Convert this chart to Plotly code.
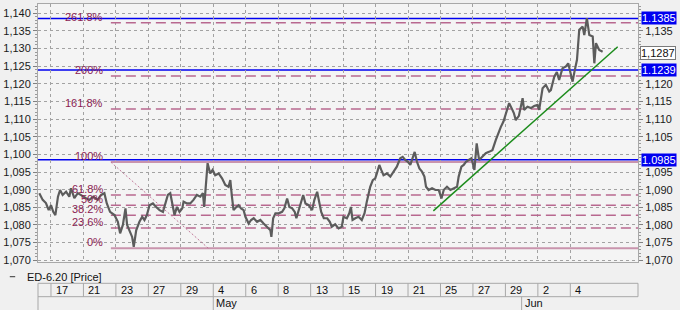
import plotly.graph_objects as go

# ---------------- data ----------------
# trading-day index (0 = Apr 17) and price of the intraday path
day = [-0.72, -0.51, -0.31, -0.14, 0.00, 0.14, 0.27, 0.43, 0.56, 0.72, 0.93, 1.13, 1.23, 1.44, 1.65,
       1.96, 2.16, 2.36, 2.61, 2.88, 3.09, 3.29, 3.44, 3.64, 3.91, 4.12, 4.26, 4.43, 4.59, 4.69,
       4.83, 5.00, 5.10, 5.25, 5.45, 5.62, 5.76, 5.91, 6.07, 6.28, 6.48, 6.69, 6.90, 7.06, 7.20,
       7.35, 7.51, 7.61, 7.76, 7.92, 8.09, 8.17, 8.38, 8.58, 8.78, 8.99, 9.20, 9.36, 9.44, 9.57,
       9.65, 9.81, 9.96, 10.12, 10.33, 10.54, 10.74, 10.94, 11.05, 11.15, 11.25, 11.42, 11.56, 11.71,
       11.87, 11.98, 12.18, 12.33, 12.49, 12.70, 12.90, 13.10, 13.31, 13.52, 13.58, 13.69, 13.83,
       14.03, 14.24, 14.38, 14.55, 14.69, 14.86, 15.02, 15.12, 15.27, 15.43, 15.54, 15.68, 15.88,
       16.09, 16.23, 16.40, 16.50, 16.65, 16.81, 17.02, 17.18, 17.30, 17.51, 17.72, 17.92, 18.02,
       18.23, 18.38, 18.48, 18.58, 18.75, 18.95, 19.15, 19.32, 19.46, 19.57, 19.67, 19.83, 19.98,
       20.08, 20.23, 20.35, 20.49, 20.70, 20.91, 21.11, 21.31, 21.52, 21.67, 21.83, 21.99, 22.14,
       22.28, 22.41, 22.55, 22.70, 22.86, 23.01, 23.11, 23.27, 23.48, 23.69, 23.89, 24.06, 24.20,
       24.40, 24.61, 24.81, 25.02, 25.12, 25.29, 25.43, 25.57, 25.74, 25.91, 26.09, 26.23, 26.38,
       26.59, 26.79, 26.99, 27.20, 27.41, 27.55, 27.72, 27.88, 28.09, 28.23, 28.38, 28.52, 28.64,
       28.83, 29.06, 29.15, 29.36, 29.57, 29.77, 29.98, 30.08, 30.19, 30.29, 30.49, 30.70, 30.80,
       31.01, 31.17, 31.31, 31.52, 31.73, 31.87, 32.04, 32.14, 32.25, 32.41, 32.55, 32.76, 32.86,
       33.02, 33.17, 33.38, 33.48, 33.58, 33.78, 33.99]
price = [1.0890, 1.0871, 1.0862, 1.0842, 1.0856, 1.0837, 1.0828, 1.0880, 1.0899, 1.0885, 1.0894,
         1.0880, 1.0904, 1.0876, 1.0890, 1.0880, 1.0876, 1.0871, 1.0880, 1.0871, 1.0885, 1.0890,
         1.0861, 1.0837, 1.0828, 1.0809, 1.0776, 1.0800, 1.0847, 1.0800, 1.0785, 1.0766, 1.0738,
         1.0785, 1.0809, 1.0823, 1.0814, 1.0828, 1.0856, 1.0861, 1.0851, 1.0842, 1.0837, 1.0861,
         1.0885, 1.0890, 1.0851, 1.0828, 1.0851, 1.0837, 1.0847, 1.0866, 1.0861, 1.0861, 1.0871,
         1.0885, 1.0880, 1.0890, 1.0851, 1.0946, 1.0975, 1.0946, 1.0956, 1.0941, 1.0946, 1.0932,
         1.0913, 1.0908, 1.0927, 1.0880, 1.0842, 1.0851, 1.0856, 1.0847, 1.0842, 1.0823, 1.0804,
         1.0814, 1.0819, 1.0809, 1.0814, 1.0804, 1.0795, 1.0785, 1.0766, 1.0819, 1.0833, 1.0833,
         1.0837, 1.0847, 1.0875, 1.0851, 1.0847, 1.0837, 1.0819, 1.0842, 1.0871, 1.0885, 1.0861,
         1.0856, 1.0842, 1.0871, 1.0894, 1.0866, 1.0837, 1.0819, 1.0819, 1.0809, 1.0795, 1.0802,
         1.0790, 1.0795, 1.0823, 1.0819, 1.0833, 1.0851, 1.0814, 1.0819, 1.0823, 1.0814, 1.0833,
         1.0866, 1.0890, 1.0908, 1.0927, 1.0932, 1.0946, 1.0970, 1.0956, 1.0941, 1.0946, 1.0937,
         1.0951, 1.0965, 1.0989, 1.0993, 1.0984, 1.0979, 1.0970, 1.0993, 1.1007, 1.0979, 1.0960,
         1.0951, 1.0937, 1.0908, 1.0899, 1.0904, 1.0899, 1.0899, 1.0875, 1.0899, 1.0908, 1.0899,
         1.0904, 1.0908, 1.0937, 1.0965, 1.0970, 1.0979, 1.0984, 1.0989, 1.0956, 1.1031, 1.0984,
         1.0993, 1.1003, 1.1007, 1.1012, 1.1041, 1.1060, 1.1078, 1.1093, 1.1121, 1.1145, 1.1131,
         1.1117, 1.1097, 1.1109, 1.1159, 1.1126, 1.1135, 1.1131, 1.1137, 1.1140, 1.1126, 1.1163,
         1.1187, 1.1197, 1.1178, 1.1182, 1.1220, 1.1233, 1.1211, 1.1244, 1.1249, 1.1258, 1.1220,
         1.1206, 1.1233, 1.1268, 1.1353, 1.1362, 1.1338, 1.1386, 1.1338, 1.1334, 1.1258, 1.1315,
         1.1296, 1.1291]
last_price = 1.1287
series_name = "ED-6.20 [Price]"

# price-axis ticks
y_ticks = [1.070, 1.075, 1.080, 1.085, 1.090, 1.095, 1.100, 1.105,
           1.110, 1.115, 1.120, 1.125, 1.130, 1.135, 1.140]
y_ticks_hidden_right = [1.100, 1.125, 1.130, 1.140]   # covered by the value boxes

# date band
date_pos = [0, 2, 4, 6, 8, 10, 12, 14, 16, 18, 20, 22, 24, 26, 28, 30, 32]
date_labels = ["17", "21", "23", "27", "29", "4", "6", "8", "13", "15", "19", "21", "25", "27", "29", "2", "4"]
month_pos = [10, 29]
month_labels = ["May", "Jun"]

# horizontal (blue) levels
blue_levels = [1.1385, 1.1239, 1.0985]

# Fibonacci tool
fib_low = 1.0734
fib_high = 1.0978
fib_x0 = 3.69      # anchor at 100% level
fib_x1 = 9.69      # anchor at 0% level
fib_ratios = [0.0, 0.236, 0.382, 0.5, 0.618, 1.0, 1.618, 2.0, 2.618]
fib_labels = ["0%", "23.6%", "38.2%", "50%", "61.8%", "100%", "161.8%", "200%", "261.8%"]

# trend line
trend_x = [23.56, 34.92]
trend_y = [1.0840, 1.1305]

# ---------------- layout constants ----------------
X_MIN, X_MAX = -0.80, 36.17
Y_MIN, Y_MAX = 1.0695, 1.1426
FONT = "Liberation Sans, Arial, sans-serif"
GRID = "#a2a2a2"
FRAME = "#a8a8a8"
FIB_COLOR = "#b8688f"
FIB_SOLID = "#c994ad"
FIB_TEXT = "#8b2252"
BLUE = "#0000f0"

fig = go.Figure()

fig.add_trace(go.Scatter(x=day, y=price, mode="lines",
                         line=dict(color="#5c5c5c", width=2.2),
                         hoverinfo="skip", showlegend=False))

# Fibonacci diagonal
fig.add_trace(go.Scatter(x=[fib_x0, fib_x1], y=[fib_high, fib_low], mode="lines",
                         line=dict(color="#c07898", width=1, dash="2px,2px"),
                         hoverinfo="skip", showlegend=False))

# trend line (on the right-hand axis, same scale)
fig.add_trace(go.Scatter(x=trend_x, y=trend_y, mode="lines", yaxis="y2",
                         line=dict(color="#1c8c1c", width=1.5),
                         hoverinfo="skip", showlegend=False))

shapes = []
annotations = []

# Fib levels
for r, lab in zip(fib_ratios, fib_labels):
    lvl = fib_low + r * (fib_high - fib_low)
    solid = r in (0.0, 1.0)
    shapes.append(dict(type="line", xref="x", yref="y", x0=fib_x0, x1=X_MAX, y0=lvl, y1=lvl,
                       layer="between",
                       line=dict(color=FIB_SOLID if solid else FIB_COLOR,
                                 width=2 if solid else 1.5,
                                 dash="solid" if solid else "10px,5px")))
    annotations.append(dict(x=fib_x0, y=lvl, xref="x", yref="y", text=lab, showarrow=False,
                            xanchor="right", yanchor="bottom", xshift=-6, yshift=-2,
                            font=dict(family=FONT, size=11, color=FIB_TEXT)))

# blue levels and their right-hand labels
for v in blue_levels:
    shapes.append(dict(type="line", xref="paper", yref="y", x0=0, x1=1, y0=v, y1=v,
                       layer="between", line=dict(color=BLUE, width=1.5)))
    annotations.append(dict(x=1, y=v, xref="paper", yref="y", text=f"{v:.4f}", showarrow=False,
                            xanchor="left", yanchor="middle", xshift=3, borderpad=0,
                            bgcolor=BLUE, font=dict(family=FONT, size=11, color="white")))

# last price box
annotations.append(dict(x=1, y=last_price, xref="paper", yref="y",
                        text=f"{last_price:.4f}".replace(".", ","), showarrow=False,
                        xanchor="left", yanchor="middle", xshift=2, borderpad=0,
                        bgcolor="white", bordercolor="#7a7a7a", borderwidth=1,
                        font=dict(family=FONT, size=11, color="#111")))

# date band (below the plot)
Y_BAND_TOP = -0.0826
Y_BAND_MID = -0.1345
Y_BAND_BOT = -0.19
band_line = dict(color=FRAME, width=1)
shapes.append(dict(type="line", xref="paper", yref="paper", x0=0, x1=1, y0=Y_BAND_TOP, y1=Y_BAND_TOP, line=band_line))
shapes.append(dict(type="line", xref="paper", yref="paper", x0=0, x1=1, y0=Y_BAND_MID, y1=Y_BAND_MID, line=band_line))
shapes.append(dict(type="line", xref="paper", yref="paper", x0=0, x1=0, y0=Y_BAND_TOP, y1=Y_BAND_BOT, line=band_line))
shapes.append(dict(type="line", xref="paper", yref="paper", x0=1, x1=1, y0=Y_BAND_TOP, y1=Y_BAND_MID, line=band_line))
for p, lab in zip(date_pos, date_labels):
    shapes.append(dict(type="line", xref="x", yref="paper", x0=p, x1=p, y0=Y_BAND_TOP, y1=Y_BAND_MID, line=band_line))
    annotations.append(dict(x=p, y=(Y_BAND_TOP + Y_BAND_MID) / 2, xref="x", yref="paper", text=lab,
                            showarrow=False, xanchor="left", yanchor="middle", xshift=3,
                            font=dict(family=FONT, size=11, color="#111")))
for p, lab in zip(month_pos, month_labels):
    shapes.append(dict(type="line", xref="x", yref="paper", x0=p, x1=p, y0=Y_BAND_MID, y1=Y_BAND_BOT, line=band_line))
    annotations.append(dict(x=p, y=(Y_BAND_MID + Y_BAND_BOT) / 2 + 0.005, xref="x", yref="paper", text=lab,
                            showarrow=False, xanchor="left", yanchor="middle", xshift=1,
                            font=dict(family=FONT, size=11, color="#111")))

# legend row
shapes.append(dict(type="line", xref="paper", yref="paper", x0=-0.047, x1=-0.038, y0=-0.057, y1=-0.057,
                   line=dict(color="#333", width=1)))
annotations.append(dict(x=-0.022, y=-0.057, xref="paper", yref="paper", text=series_name, showarrow=False,
                        xanchor="left", yanchor="middle", font=dict(family=FONT, size=11, color="#111")))

def tick_text(v, hidden=()):
    if any(abs(v - h) < 1e-9 for h in hidden):
        return ""
    return f"{v:.3f}".replace(".", ",")

yaxis_common = dict(range=[Y_MIN, Y_MAX], tickmode="array", tickvals=y_ticks,
                    ticks="outside", ticklen=4, tickcolor="#808080",
                    minor=dict(dtick=0.001, tick0=1.07, ticks="outside", ticklen=2,
                               tickcolor="#9a9a9a", showgrid=False),
                    tickfont=dict(family=FONT, size=11, color="#1a1a1a"),
                    zeroline=False, fixedrange=True)

fig.update_layout(
    width=680, height=310,
    margin=dict(l=38, r=42, t=4, b=48),
    paper_bgcolor="#f0f0f0", plot_bgcolor="#f4f4f4",
    showlegend=False,
    xaxis=dict(range=[X_MIN, X_MAX], tickvals=date_pos, showticklabels=False, ticks="",
               showgrid=True, gridcolor=GRID, griddash="dot", gridwidth=1,
               zeroline=False, showline=True, linecolor=FRAME, mirror=True, fixedrange=True),
    yaxis=dict(**yaxis_common, ticktext=[tick_text(v) for v in y_ticks],
               showgrid=True, gridcolor=GRID, griddash="dot", gridwidth=1,
               showline=True, linecolor=FRAME, mirror=True, side="left"),
    yaxis2=dict(**yaxis_common, ticktext=[tick_text(v, y_ticks_hidden_right) for v in y_ticks],
                overlaying="y", side="right", showgrid=False,
                showline=True, linecolor=FRAME),
    shapes=shapes,
    annotations=annotations,
)

fig.write_html("out.html", config={"displayModeBar": False, "staticPlot": True})
